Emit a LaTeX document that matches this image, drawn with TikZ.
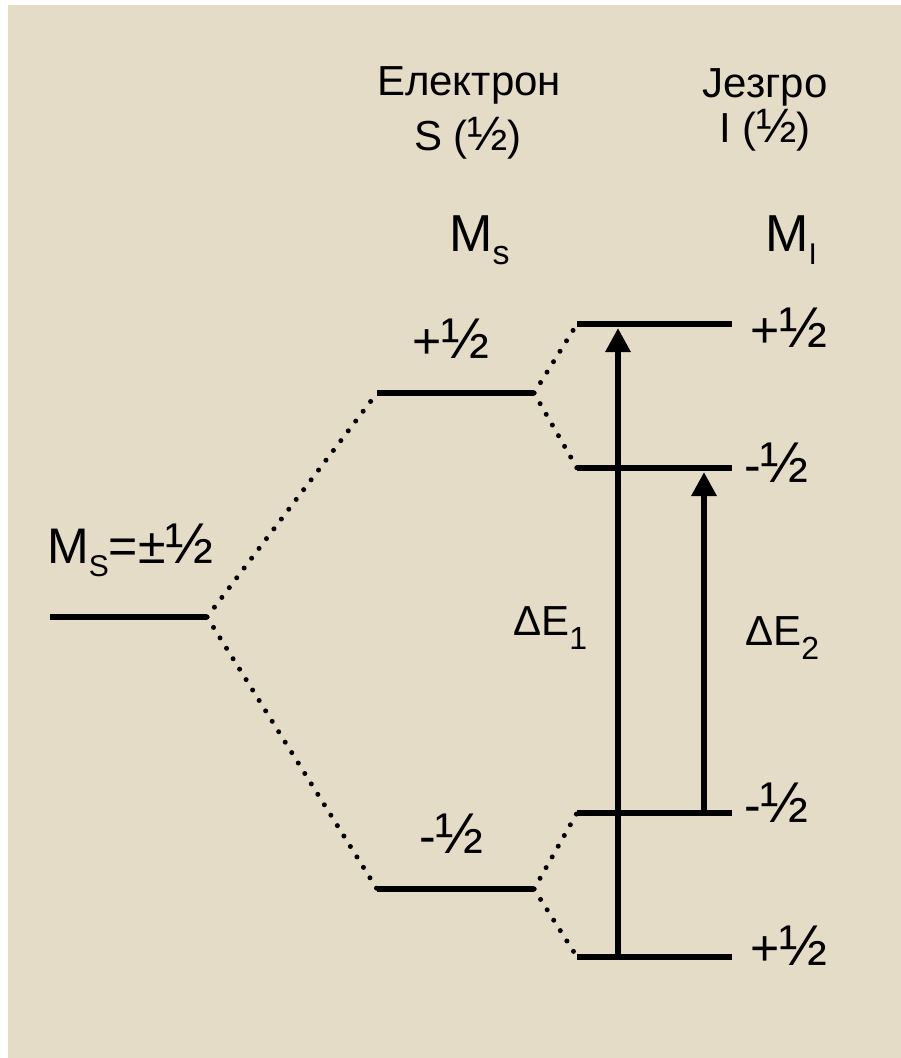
\documentclass[tikz,border=0pt]{standalone}
\usepackage{fontspec}
\setmainfont{Liberation Sans}
\usetikzlibrary{arrows.meta}
\definecolor{bgc}{HTML}{E5DCC8}
\newcommand\fs[1]{\fontsize{#1}{#1}\selectfont}
\newcommand\lowsub[3]{\raisebox{-#1}{\fs{#2}#3}}
\newcommand\hlf{\scalebox{1.15}{½}}
\tikzset{
  level/.style={line width=5.5pt},
  dots/.style={line width=5pt, line cap=round, dash pattern=on 0pt off 12.3pt},
  trans/.style={line width=6.5pt, -{Triangle[width=24pt,length=24pt]}},
  lbl/.style={inner sep=0pt, anchor=base west},
  hdr/.style={inner sep=0pt, anchor=base, font=\fs{42}}
}
\begin{document}
\begin{tikzpicture}[x=1pt,y=-1pt]
\useasboundingbox (0,0) rectangle (901,1058);
\fill[bgc] (8,5) rectangle (901,1058);
% level endpoints
\coordinate (L0a) at (50,617);  \coordinate (L0b) at (207,617);
\coordinate (EPa) at (377,393); \coordinate (EPb) at (534,393);
\coordinate (EMa) at (377,889); \coordinate (EMb) at (534,889);
\coordinate (N1a) at (577,324); \coordinate (N1b) at (732,324);
\coordinate (N2a) at (577,468); \coordinate (N2b) at (732,468);
\coordinate (N3a) at (577,813); \coordinate (N3b) at (732,813);
\coordinate (N4a) at (577,957); \coordinate (N4b) at (732,957);
\foreach \a/\b in {L0a/L0b,EPa/EPb,EMa/EMb,N1a/N1b,N2a/N2b,N3a/N3b,N4a/N4b}
  \draw[level] (\a) -- (\b);
% dotted correlation lines
\draw[dots] (L0b) -- (EPa);
\draw[dots] (L0b) -- (EMa);
\draw[dots] (EPb) -- (N1a);
\draw[dots] (EPb) -- (N2a);
\draw[dots] (EMb) -- (N3a);
\draw[dots] (EMb) -- (N4a);
% transitions
\coordinate (A1s) at (618,957); \coordinate (A1e) at (618,328);
\coordinate (A2s) at (704,813); \coordinate (A2e) at (704,472);
\draw[trans] (A1s) -- (A1e);
\draw[trans] (A2s) -- (A2e);
% headers
\node[hdr] (elec) at (469,95) {Електрон};
\node[hdr] (elecS) at (468,150) {S (\hlf)};
\node[hdr] (jez) at (765,97) {Језгро};
\node[hdr] (jezI) at (765,142) {I (\hlf)};
\node[lbl, font=\fs{52}] (Ms) at (449,251) {M\lowsub{13pt}{34}{s}};
\node[lbl, font=\fs{52}] (MI) at (765,251) {M\lowsub{13pt}{30}{I}};
% level labels
\node[lbl, font=\fs{50}] (M0) at (47,563) {M\lowsub{13pt}{30}{S}=±\hlf};
\node[lbl, font=\fs{50}] (ep) at (412,358) {+\hlf};
\node[lbl, font=\fs{50}] (em) at (419,853) {-\hlf};
\node[lbl, font=\fs{50}] (n1) at (750,347) {+\hlf};
\node[lbl, font=\fs{50}] (n2) at (744,482) {-\hlf};
\node[lbl, font=\fs{50}] (n3) at (744,822) {-\hlf};
\node[lbl, font=\fs{50}] (n4) at (750,965) {+\hlf};
\node[lbl, font=\fs{42}] (d1) at (513,635) {ΔE\lowsub{14pt}{32}{1}};
\node[lbl, font=\fs{42}] (d2) at (745,645) {ΔE\lowsub{14pt}{32}{2}};
\end{tikzpicture}
\end{document}
